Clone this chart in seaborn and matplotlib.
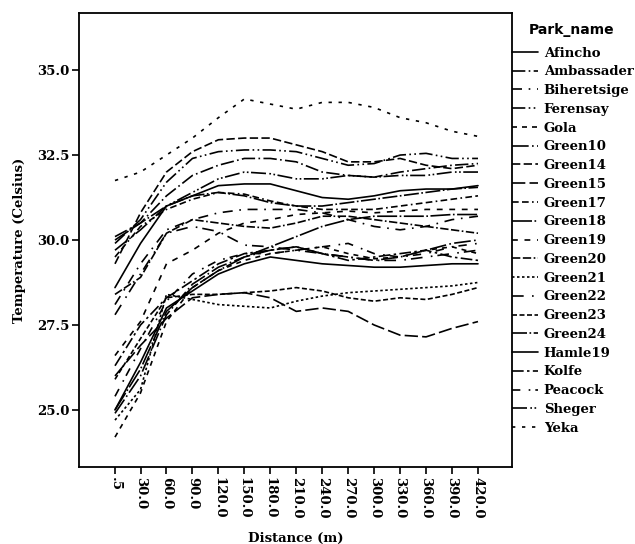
import matplotlib
matplotlib.use('Agg')
import matplotlib.pyplot as plt
import pandas as pd
import seaborn as sns

distances = [0.5, 30, 60, 90, 120, 150, 180, 210, 240, 270, 300, 330, 360, 390, 420]
tick_labels = ['.5', '30.0', '60.0', '90.0', '120.0', '150.0', '180.0', '210.0',
               '240.0', '270.0', '300.0', '330.0', '360.0', '390.0', '420.0']

afincho = [28.6, 29.9, 31.0, 31.3, 31.6, 31.65, 31.65, 31.45, 31.25, 31.2, 31.3, 31.45, 31.5, 31.5, 31.6]
ambassader = [30.1, 30.5, 31.3, 31.9, 32.2, 32.4, 32.4, 32.3, 32.0, 31.9, 31.85, 32.0, 32.1, 32.2, 32.25]
biheretsige = [28.1, 29.3, 30.3, 30.6, 30.8, 30.9, 30.9, 30.9, 30.8, 30.6, 30.4, 30.3, 30.4, 30.6, 30.7]
ferensay = [29.9, 30.6, 31.7, 32.4, 32.6, 32.65, 32.65, 32.6, 32.4, 32.2, 32.25, 32.5, 32.55, 32.4, 32.4]
gola = [24.2, 25.5, 27.6, 28.6, 29.1, 29.4, 29.6, 29.7, 29.8, 29.6, 29.45, 29.5, 29.7, 29.8, 29.6]
green10 = [24.9, 26.0, 27.8, 28.7, 29.2, 29.5, 29.7, 29.8, 29.6, 29.5, 29.4, 29.5, 29.7, 29.9, 30.0]
green14 = [29.3, 30.8, 32.0, 32.6, 32.95, 33.0, 33.0, 32.8, 32.6, 32.3, 32.3, 32.4, 32.2, 32.1, 32.2]
green15 = [26.0, 26.9, 27.7, 28.3, 28.4, 28.45, 28.3, 27.9, 28.0, 27.9, 27.5, 27.2, 27.15, 27.4, 27.6]
green17 = [29.5, 30.4, 30.9, 31.2, 31.4, 31.35, 31.15, 31.0, 30.9, 30.9, 30.9, 31.0, 31.1, 31.2, 31.3]
green18 = [25.0, 26.2, 27.9, 28.6, 29.1, 29.5, 29.8, 30.1, 30.4, 30.6, 30.7, 30.7, 30.7, 30.75, 30.75]
green19 = [26.6, 27.6, 29.3, 29.7, 30.2, 30.5, 30.6, 30.75, 30.8, 30.85, 30.8, 30.85, 30.9, 30.9, 30.9]
green20 = [28.4, 28.9, 30.2, 30.6, 30.5, 30.4, 30.35, 30.5, 30.7, 30.7, 30.6, 30.5, 30.4, 30.3, 30.2]
green21 = [24.7, 25.6, 28.4, 28.25, 28.1, 28.05, 28.0, 28.2, 28.35, 28.45, 28.5, 28.55, 28.6, 28.65, 28.75]
green22 = [27.8, 29.0, 30.2, 30.4, 30.25, 29.85, 29.8, 29.7, 29.6, 29.5, 29.4, 29.4, 29.5, 29.6, 29.7]
green23 = [25.9, 27.1, 28.3, 28.4, 28.4, 28.45, 28.5, 28.6, 28.5, 28.3, 28.2, 28.3, 28.25, 28.4, 28.6]
green24 = [30.0, 30.5, 31.0, 31.3, 31.4, 31.3, 31.1, 31.0, 31.0, 31.1, 31.2, 31.3, 31.4, 31.5, 31.55]
hamle19 = [25.0, 26.4, 28.0, 28.5, 29.0, 29.3, 29.5, 29.4, 29.3, 29.25, 29.2, 29.2, 29.25, 29.3, 29.3]
kolfe = [26.3, 27.5, 28.3, 28.8, 29.3, 29.6, 29.7, 29.8, 29.6, 29.4, 29.5, 29.6, 29.7, 29.5, 29.4]
peacock = [25.4, 26.8, 28.2, 29.0, 29.4, 29.6, 29.6, 29.7, 29.8, 29.9, 29.6, 29.5, 29.6, 29.8, 29.9]
sheger = [29.7, 30.3, 31.0, 31.4, 31.8, 32.0, 31.95, 31.8, 31.8, 31.9, 31.85, 31.9, 31.9, 32.0, 32.0]
yeka = [31.75, 32.0, 32.5, 33.0, 33.6, 34.15, 34.0, 33.85, 34.05, 34.05, 33.9, 33.6, 33.45, 33.2, 33.05]

parks = {
    'Afincho': afincho, 'Ambassader': ambassader, 'Biheretsige': biheretsige,
    'Ferensay': ferensay, 'Gola': gola, 'Green10': green10, 'Green14': green14,
    'Green15': green15, 'Green17': green17, 'Green18': green18, 'Green19': green19,
    'Green20': green20, 'Green21': green21, 'Green22': green22, 'Green23': green23,
    'Green24': green24, 'Hamle19': hamle19, 'Kolfe': kolfe, 'Peacock': peacock,
    'Sheger': sheger, 'Yeka': yeka,
}

# dash pattern per park, roughly as in the legend
dashes = {
    'Afincho': '', 'Ambassader': (8, 2, 1, 2), 'Biheretsige': (6, 4, 1, 4),
    'Ferensay': (8, 2, 1, 2, 1, 2), 'Gola': (3, 3), 'Green10': (10, 2, 1, 2),
    'Green14': (5, 2), 'Green15': (8, 2.5), 'Green17': (4, 2, 4, 2, 1, 2),
    'Green18': (12, 1.5, 1, 1.5), 'Green19': (3.5, 4), 'Green20': (5, 1.5, 5, 1.5, 1, 1.5),
    'Green21': (1.5, 1.5), 'Green22': (7, 5, 1, 3), 'Green23': (3, 1.5),
    'Green24': (9, 1.5, 1, 1.5), 'Hamle19': '', 'Kolfe': (7, 2, 1.5, 2),
    'Peacock': (5, 5, 1, 3), 'Sheger': (9, 2, 1, 1.5, 1, 1.5), 'Yeka': (2, 4),
}

rows = []
for name, vals in parks.items():
    for d, v in zip(distances, vals):
        rows.append({'Park_name': name, 'Distance': d, 'Temp': v})
df = pd.DataFrame(rows)

sns.set_style('white')
plt.rcParams['font.family'] = ['DejaVu Serif']
plt.rcParams['font.weight'] = 'bold'
plt.rcParams['text.color'] = 'black'
plt.rcParams['axes.labelcolor'] = 'black'
plt.rcParams['xtick.color'] = 'black'
plt.rcParams['ytick.color'] = 'black'

fig = plt.figure(figsize=(6.35, 5.44), dpi=100)
ax = fig.add_axes([0.1244, 0.1415, 0.6819, 0.8346])

sns.lineplot(data=df, x='Distance', y='Temp', hue='Park_name', style='Park_name',
             palette=['black'] * len(parks), dashes=dashes, linewidth=1.2, ax=ax)

ax.set_xlim(-41.1, 459.3)
ax.set_ylim(23.32, 36.68)
ax.set_xticks(distances)
ax.set_xticklabels(tick_labels, rotation=-90, fontsize=9.5, fontweight='bold')
ax.set_yticks([25.0, 27.5, 30.0, 32.5, 35.0])
ax.set_yticklabels(['25.0', '27.5', '30.0', '32.5', '35.0'], fontsize=9.5, fontweight='bold')
ax.tick_params(axis='both', direction='out', length=5, width=1.2, color='black',
               labelcolor='black', pad=2, bottom=True, left=True)
for s in ax.spines.values():
    s.set_color('black')
    s.set_linewidth(1.3)

ax.set_xlabel('Distance (m)', fontsize=9.5, fontweight='bold', labelpad=10, color='black')
ax.set_ylabel('Temperature (Celsius)', fontsize=9.5, fontweight='bold', labelpad=8, color='black')

handles, labels = ax.get_legend_handles_labels()
leg = ax.legend(handles, labels, loc='upper left', bbox_to_anchor=(1.0, 0.926),
                frameon=False, borderaxespad=0, borderpad=0, handlelength=2.0,
                handletextpad=0.4, labelspacing=0.436, labelcolor='black',
                prop={'family': 'DejaVu Serif', 'weight': 'bold', 'size': 9.5})
fig.text(572 / 635, 1 - 30 / 544, 'Park_name', ha='center', va='center',
         family='DejaVu Sans', fontweight='bold', fontsize=10, color='black')

fig.savefig('out.png', dpi=100)
